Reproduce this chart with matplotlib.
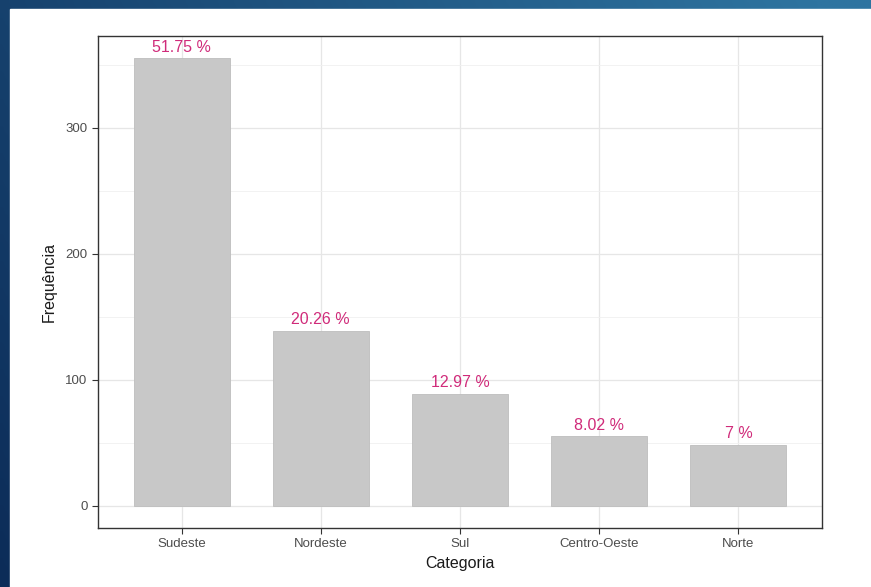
import numpy as np
import matplotlib.pyplot as plt
from matplotlib.patches import Rectangle

# dados
categorias = ["Sudeste", "Nordeste", "Sul", "Centro-Oeste", "Norte"]
frequencias = [355, 139, 89, 55, 48]
rotulos = ["51.75 %", "20.26 %", "12.97 %", "8.02 %", "7 %"]
yticks = [0, 100, 200, 300]

plt.rcParams["font.family"] = ["Liberation Sans", "DejaVu Sans"]

W, H = 871, 587
fig = plt.figure(figsize=(W / 100, H / 100), dpi=100)

# fundo azul em gradiente
bg = fig.add_axes([0, 0, 1, 1], zorder=-10)
gx = np.linspace(0, 1, 200)
gy = np.linspace(0, 1, 200)
X, Y = np.meshgrid(gx, gy)
c0 = np.array([0x0c, 0x2c, 0x58]) / 255
c1 = np.array([0x2e, 0x74, 0xa0]) / 255
t = np.clip(0.75 * X + 0.3 * (1 - Y), 0, 1)[..., None]
img = c0 * (1 - t) + c1 * t
bg.imshow(img, extent=[0, 1, 0, 1], aspect="auto", origin="upper")
bg.add_patch(Rectangle((10 / W, 0), 1, 1 - 9 / H, color="white", transform=bg.transAxes))
bg.set_xlim(0, 1)
bg.set_ylim(0, 1)
bg.axis("off")

ax = fig.add_axes([98 / W, 1 - 528 / H, (822 - 98) / W, (528 - 36) / H])
x = np.arange(len(categorias))
ax.bar(x, frequencias, width=0.69, color="#c8c8c8", edgecolor="#bdbdbd", linewidth=0.6, zorder=2)
for xi, f, r in zip(x, frequencias, rotulos):
    ax.text(xi, f + 3, r, ha="center", va="bottom", color="#d02b7a", fontsize=11.5,
            fontweight="medium", zorder=3)

ymax = max(frequencias)
ax.set_xlim(-0.6, len(categorias) - 0.4)
ax.set_ylim(-0.05 * ymax, ymax * 1.05)
ax.set_xticks(x)
ax.set_xticklabels(categorias)
ax.set_yticks(yticks)
ax.set_yticks([50, 150, 250, 350], minor=True)
ax.grid(which="major", color="#e6e6e6", linewidth=0.9, zorder=0)
ax.grid(which="minor", axis="y", color="#f0f0f0", linewidth=0.6, zorder=0)
ax.tick_params(axis="both", which="major", labelsize=9.5, labelcolor="#4d4d4d", color="#333333", length=4)
ax.tick_params(axis="y", which="minor", length=0)
for s in ax.spines.values():
    s.set_color("#333333")
    s.set_linewidth(1.0)
ax.set_axisbelow(True)
ax.set_xlabel("Categoria", fontsize=11.5, color="#1a1a1a", labelpad=4)
ax.set_ylabel("Frequência", fontsize=11.5, color="#1a1a1a", labelpad=6)

fig.savefig("out.png", dpi=100)
